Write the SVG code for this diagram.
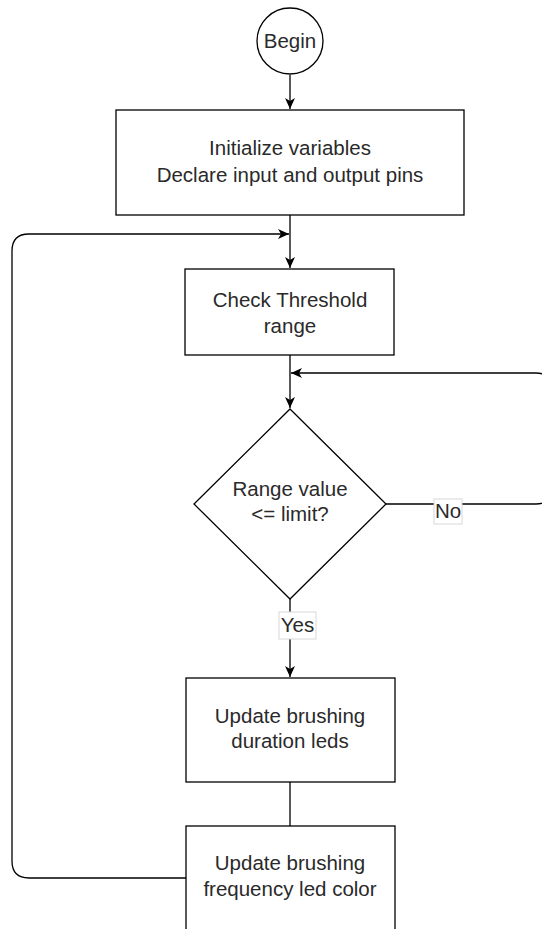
<svg xmlns="http://www.w3.org/2000/svg" width="542" height="929" viewBox="0 0 542 929">
<style>
.n{fill:#fff;stroke:#000;stroke-width:1.3}
.t{font-family:"Liberation Sans",Arial,Helvetica,sans-serif;font-size:20.5px;fill:#2a2a2a;text-anchor:middle}
.c{fill:none;stroke:#000;stroke-width:1.3}
.lb{fill:#fff;stroke:#d8d8d8;stroke-width:1}
</style>
<defs>
<marker id="ah" markerWidth="12" markerHeight="10" refX="11" refY="5" orient="auto" markerUnits="userSpaceOnUse">
<path d="M0,0 L11,5 L0,10 L3,5 Z" fill="#000"/>
</marker>
</defs>
<rect width="542" height="929" fill="#fff"/>
<g id="connectors">
<path class="c" d="M290,75 V109" marker-end="url(#ah)"/>
<path class="c" d="M290,215 V268" marker-end="url(#ah)"/>
<path class="c" d="M290,355 V408" marker-end="url(#ah)"/>
<path class="c" d="M386,504 H536 Q552,504 552,488 V389 Q552,373 536,373 H291" marker-end="url(#ah)"/>
<path class="c" d="M290,599 V677" marker-end="url(#ah)"/>
<path class="c" d="M290,782 V826"/>
<path class="c" d="M186,878 H29 Q12,878 12,861 V251 Q12,234 29,234 H289" marker-end="url(#ah)"/>
</g>
<g id="begin">
<circle class="n" cx="290" cy="41" r="33"/>
<text class="t" x="290" y="48">Begin</text>
</g>
<g id="init">
<rect class="n" x="116" y="110" width="348" height="105"/>
<text class="t" x="290" y="155">Initialize variables</text>
<text class="t" x="290" y="182">Declare input and output pins</text>
</g>
<g id="check">
<rect class="n" x="185" y="269" width="209" height="86"/>
<text class="t" x="290" y="307">Check Threshold</text>
<text class="t" x="290" y="333">range</text>
</g>
<g id="decision">
<path class="n" d="M290,409 L386,504 L290,599 L194,504 Z"/>
<text class="t" x="290" y="496">Range value</text>
<text class="t" x="290" y="521">&lt;= limit?</text>
</g>
<g id="label-no">
<rect class="lb" x="434" y="499" width="28" height="25"/>
<text class="t" x="448" y="518">No</text>
</g>
<g id="label-yes">
<rect class="lb" x="279" y="612" width="37" height="27"/>
<text class="t" x="297.5" y="632">Yes</text>
</g>
<g id="duration">
<rect class="n" x="186" y="678" width="209" height="104"/>
<text class="t" x="290" y="723">Update brushing</text>
<text class="t" x="290" y="748">duration leds</text>
</g>
<g id="frequency">
<rect class="n" x="186" y="826" width="209" height="120"/>
<text class="t" x="290" y="870">Update brushing</text>
<text class="t" x="290" y="896">frequency led color</text>
</g>
</svg>
